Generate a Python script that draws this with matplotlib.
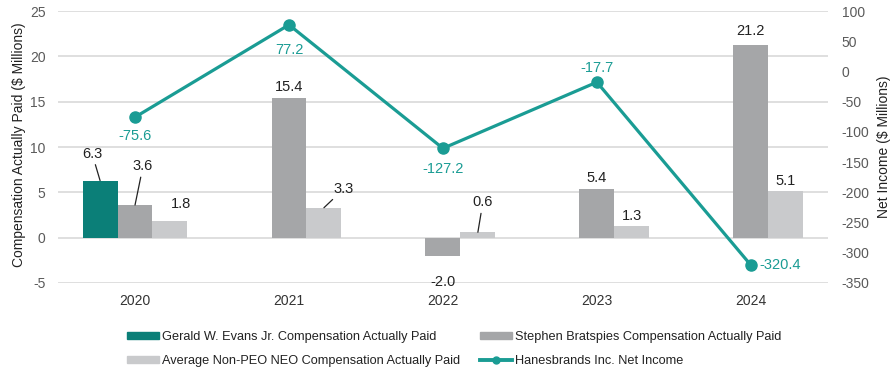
import numpy as np
import matplotlib
matplotlib.use("Agg")
import matplotlib.pyplot as plt
from matplotlib.lines import Line2D
from matplotlib.patches import Patch

years = ["2020", "2021", "2022", "2023", "2024"]
evans = [6.3, np.nan, np.nan, np.nan, np.nan]
bratspies = [3.6, 15.4, -2.0, 5.4, 21.2]
non_peo = [1.8, 3.3, 0.6, 1.3, 5.1]
net_income = [-75.6, 77.2, -127.2, -17.7, -320.4]

c_evans = "#0b7f78"
c_brat = "#a5a6a8"
c_non = "#c9cacc"
c_line = "#1a9c94"
c_text = "#222222"
c_tick = "#5a5a5a"

plt.rcParams["font.family"] = ["Liberation Sans", "DejaVu Sans"]
plt.rcParams["axes.unicode_minus"] = False

fig = plt.figure(figsize=(8.93, 3.68), dpi=100)
ax = fig.add_axes([0.065, 0.231, 0.862, 0.739])
ax2 = ax.twinx()

x = np.arange(len(years))
w = 0.227

ax.bar(x - w, evans, w, color=c_evans, zorder=2)
ax.bar(x, bratspies, w, color=c_brat, zorder=2)
ax.bar(x + w, non_peo, w, color=c_non, zorder=2)

ax.set_xlim(-0.5, len(years) - 0.5)
ax.set_ylim(-5, 25)
ax.set_yticks(np.arange(-5, 26, 5))
ax.yaxis.grid(True, color="#d9d9d9", linewidth=1.2, zorder=0)
ax.set_axisbelow(True)
ax.set_xticks(x)
ax.set_xticklabels(years)
ax.tick_params(axis="x", length=0, pad=8, labelsize=10, labelcolor="#333333")
ax.tick_params(axis="y", length=0, pad=9, labelsize=10, labelcolor=c_tick)
fig.text(19 / 893, 1 - 145 / 368, "Compensation Actually Paid ($ Millions)", rotation=90,
         ha="center", va="center", fontsize=10, color=c_text)

ax2.plot(x, net_income, color=c_line, linewidth=2.3, marker="o", markersize=8, zorder=5)
ax2.set_ylim(-350, 100)
ax2.set_yticks(np.arange(-350, 101, 50))
ax2.tick_params(axis="y", length=0, pad=10, labelsize=10, labelcolor=c_tick)
for lab in ax2.get_yticklabels():
    lab.set_horizontalalignment("left")
fig.text(884 / 893, 1 - 147 / 368, "Net Income ($ Millions)", rotation=90,
         ha="center", va="center", fontsize=10, color=c_text)

for a in (ax, ax2):
    for s in a.spines.values():
        s.set_visible(False)

def lab(text, xy, off, leader=False, ha="center"):
    kw = dict(textcoords="offset pixels", ha=ha, va="center", fontsize=10.5, color=c_text)
    if leader:
        kw["arrowprops"] = dict(arrowstyle="-", color=c_text, lw=0.9, shrinkA=1, shrinkB=0)
    ax.annotate(text, xy=xy, xytext=off, **kw)

# bar value labels
lab("6.3", (x[0] - w, evans[0]), (-8, 27), leader=True)
lab("3.6", (x[0], bratspies[0]), (8, 39), leader=True)
lab("1.8", (x[0] + w, non_peo[0]), (11, 17))
lab("15.4", (x[1], bratspies[1]), (0, 11))
lab("3.3", (x[1] + w, non_peo[1]), (20, 19), leader=True)
lab("-2.0", (x[2], bratspies[2]), (0, -26))
lab("0.6", (x[2] + w, non_peo[2]), (5, 30), leader=True)
lab("5.4", (x[3], bratspies[3]), (0, 11))
lab("1.3", (x[3] + w, non_peo[3]), (0, 10))
lab("21.2", (x[4], bratspies[4]), (0, 14))
lab("5.1", (x[4] + w, non_peo[4]), (0, 10))

# net income labels
offs = [(0, -19), (0, -25), (0, -21), (0, 14), (9, 0)]
for i, v in enumerate(net_income):
    ha = "left" if i == 4 else "center"
    ax2.annotate(f"{v:.1f}", xy=(x[i], v), xytext=offs[i], textcoords="offset pixels",
                 ha=ha, va="center", fontsize=10.5, color=c_line)

handles = [
    Patch(color=c_evans, label="Gerald W. Evans Jr. Compensation Actually Paid"),
    Patch(color=c_non, label="Average Non-PEO NEO Compensation Actually Paid"),
    Patch(color=c_brat, label="Stephen Bratspies Compensation Actually Paid"),
    Line2D([], [], color=c_line, linewidth=2.8, marker="o", markersize=5,
           label="Hanesbrands Inc. Net Income"),
]
fig.legend(handles=handles, ncol=2, loc="upper left", bbox_to_anchor=(127 / 893, 1 - 331 / 368),
           frameon=False, fontsize=9.2, borderpad=0, borderaxespad=0, handlelength=2.5,
           handleheight=0.55, handletextpad=0.25, columnspacing=1.55, labelspacing=0.95,
           labelcolor=c_text)

fig.savefig("out.png", dpi=100)
